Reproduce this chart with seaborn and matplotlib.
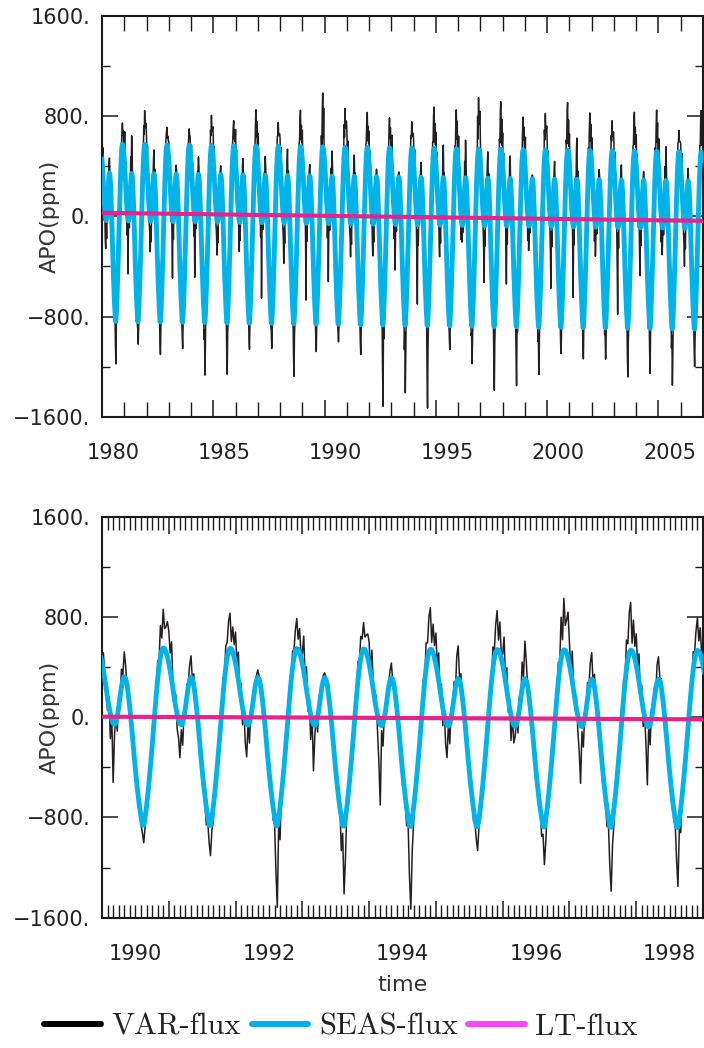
import numpy as np
import pandas as pd
import matplotlib
matplotlib.use("Agg")
import matplotlib.pyplot as plt
import matplotlib.transforms as mtransforms
from matplotlib.lines import Line2D
from matplotlib.ticker import FixedLocator, FuncFormatter, MultipleLocator
import seaborn as sns

# ---------------- data ----------------
start_year = 1980
samples_per_year = 48

# mean seasonal cycle (SEAS-flux without trend), ppm, 48 values per year
seas_cycle = [430, 370, 300, 225, 150, 80, 25, -25, -55, -62, -45, 5,
              75, 160, 240, 295, 318, 305, 255, 170, 70, -45, -170, -300,
              -420, -530, -630, -720, -790, -862, -865, -800, -715, -610, -495, -370,
              -240, -100, 40, 175, 300, 400, 480, 530, 550, 545, 520, 480]

# long-term trend (LT-flux), ppm
lt_years = [1980, 2007]
lt_values = [28, -36]

# VAR-flux deviation from SEAS-flux, in units of 10 ppm, one row per year
resid_unit = 10
var_resid_1980s = [
    [4, 10, 22, -6, 12, -14, 4, -18, -23, 2, -16, 8, -6, 6, -4, 9, 12, 2, 5, -5, 6, -7, 4, -8, 2, -6, 4, -10, -3, -19, -34, -6, -14, 4, -8, 5, -6, 7, -2, 10, 0, 9, 6, 12, 17, 8, 14, 4],
    [8, 28, 3, 18, -10, 8, -20, 5, -43, -8, 6, -12, 10, -2, 21, 4, 30, 15, -2, 9, -8, 5, -6, 3, -9, 4, -7, 2, -9, -6, -18, -11, -2, -10, 6, -7, 8, -4, 9, 2, 15, 4, 22, 10, 27, 14, 18, 24],
    [18, -2, 24, 4, -6, 10, -12, -12, -25, -4, -18, 4, -4, 11, 3, 13, 19, -2, 10, -6, 5, -9, 6, -5, -12, 5, -6, -14, -4, -16, -26, -10, -12, 2, -7, 6, -3, 10, -5, 14, 3, 8, 12, 12, 14, 6, 10, 10],
    [15, 5, 16, -6, 12, -14, 4, -18, -46, 2, -16, 8, -6, 4, -4, 5, 7, 2, 3, -5, 6, -7, 4, -8, 2, -6, 4, -10, -3, -12, -21, -6, -8, 4, -8, 5, -6, 7, -2, 10, 0, 7, 6, 9, 13, 8, 10, 4],
    [8, 18, 3, 18, -10, 8, -20, 5, -45, -8, 6, -12, 10, -2, 10, 4, 14, 7, -2, 9, -8, 5, -6, 3, -9, 4, -7, 2, -21, -6, -42, -25, -2, -10, 6, -7, 8, -4, 9, 2, 15, 4, 19, 10, 24, 12, 16, 22],
    [18, -2, 24, 4, -6, 10, -12, -14, -27, -4, -18, 4, -4, 4, 3, 5, 7, -2, 4, -6, 5, -9, 6, -5, -12, 5, -6, -14, -4, -25, -41, -16, -12, 2, -7, 6, -3, 10, -5, 14, 3, 12, 12, 17, 20, 6, 14, 10],
    [25, 5, 22, -6, 12, -14, 4, -18, -24, 2, -16, 8, -6, 7, -4, 10, 13, 2, 5, -5, 6, -7, 4, -8, 2, -6, 4, -10, -3, -12, -21, -6, -8, 4, -8, 5, -6, 7, -2, 10, 0, 16, 6, 20, 29, 8, 23, 4],
    [8, 28, 3, 18, -10, 8, -20, 5, -61, -8, 6, -12, 10, -2, 10, 4, 15, 8, -2, 9, -8, 5, -6, 3, -9, 4, -7, 2, -10, -6, -20, -12, -2, -10, 6, -7, 8, -4, 9, 2, 15, 4, 15, 10, 19, 10, 12, 17],
    [18, -2, 24, 4, -6, 10, -12, -16, -33, -4, -18, 4, -4, 13, 3, 15, 21, -2, 10, -6, 5, -9, 6, -5, -12, 5, -6, -14, -4, -25, -42, -17, -12, 2, -7, 6, -3, 10, -5, 14, 3, 17, 12, 25, 29, 6, 20, 10],
    [25, 5, 22, -6, 12, -14, 4, -18, -62, 2, -16, 8, -6, 4, -4, 7, 9, 2, 4, -5, 6, -7, 4, -8, 2, -6, 4, -10, -3, -12, -22, -6, -9, 4, -8, 5, -6, 7, -2, 10, 0, 24, 6, 30, 43, 8, 34, 4],
]
var_resid_1990s = [
    [8, 14, 3, -5, -10, 8, -20, 5, -47, -8, 6, -12, 10, -2, 14, 4, 20, 10, -2, 9, -8, 5, -6, 3, -9, 4, -7, 2, -7, -6, -14, -8, -2, -10, 6, -7, 8, -4, 9, 2, 15, 4, 25, 10, 31, 16, 20, 28],
    [26, 14, 30, 4, -6, 10, -12, -14, -27, -4, -18, 4, -4, 10, 3, 12, 17, -2, 9, -6, 5, -9, 6, -5, -12, 5, -6, -14, -4, -14, -24, -10, -12, 2, -7, 6, -3, 10, -5, 14, 3, 17, 12, 24, 28, 6, 20, 10],
    [25, 5, 22, -6, 12, -14, 4, -18, -26, 2, -16, 8, -6, 3, -4, 4, 6, 2, 2, -5, 6, -7, 4, -8, 2, -6, 4, -10, -3, -36, -65, -6, -26, 4, -8, 5, -6, 7, -2, 10, 0, 13, 6, 17, 24, 8, 19, 4],
    [8, 28, 3, 18, -10, 8, -20, 5, -37, -8, 6, -12, 10, -2, 3, 4, 4, 2, -2, 9, -8, 5, -6, 3, -9, 4, -7, 2, -27, -6, -54, -32, -2, -10, 6, -7, 8, -4, 9, 2, 15, 4, 17, 10, 21, 10, 14, 19],
    [18, -2, 24, 4, -6, 10, -12, -32, -64, -4, -18, 4, -4, 7, 3, 8, 12, -2, 6, -6, 5, -9, 6, -5, -12, 5, -6, -14, -4, -40, -66, -26, -12, 2, -7, 6, -3, 10, -5, 14, 3, 20, 12, 28, 33, 6, 23, 10],
    [25, 5, 22, -6, 12, -14, 4, -18, -26, 2, -16, 8, -6, 13, -4, 20, 26, 2, 10, -5, 6, -7, 4, -8, 2, -6, 4, -10, -3, -10, -19, -6, -8, 4, -8, 5, -6, 7, -2, 10, 0, 17, 6, 22, 31, 8, 25, 4],
    [8, 28, 3, 18, -10, 8, -20, 5, -14, -8, 6, -12, 10, -2, 21, 4, 30, 15, -2, 9, -8, 5, -6, 3, -9, 4, -7, 2, -15, -6, -30, -18, -2, -10, 6, -7, 8, -4, 9, 2, 15, 4, 33, 10, 41, 20, 27, 37],
    [18, -2, 24, 4, -6, 10, -12, -23, -46, -4, -18, 4, -4, 13, 3, 15, 21, -2, 10, -6, 5, -9, 6, -5, -12, 5, -6, -14, -4, -31, -51, -20, -12, 2, -7, 6, -3, 10, -5, 14, 3, 23, 12, 32, 38, 6, 27, 10],
    [25, 5, 22, -6, 12, -14, 4, -18, -47, 2, -16, 8, -6, 9, -4, 14, 18, 2, 7, -5, 6, -7, 4, -8, 2, -6, 4, -10, -3, -26, -47, -6, -19, 4, -8, 5, -6, 7, -2, 10, 0, 14, 6, 18, 26, 8, 21, 4],
    [8, 28, 3, 18, -10, 8, -20, 5, -20, -8, 6, -12, 10, -2, 2, 4, 3, 2, -2, 9, -8, 5, -6, 3, -9, 4, -7, 2, -19, -6, -38, -23, -2, -10, 6, -7, 8, -4, 9, 2, 15, 4, 23, 10, 29, 15, 19, 26],
]
var_resid_2000s = [
    [18, -2, 24, 4, -6, 10, -12, -25, -50, -4, -18, 4, -4, 8, 3, 10, 14, -2, 7, -6, 5, -9, 6, -5, -12, 5, -6, -14, -4, -13, -21, -8, -12, 2, -7, 6, -3, 10, -5, 14, 3, 23, 12, 32, 38, 6, 27, 10],
    [25, 5, 22, -6, 12, -14, 4, -18, -57, 2, -16, 8, -6, 17, -4, 25, 33, 2, 13, -5, 6, -7, 4, -8, 2, -6, 4, -10, -3, -14, -25, -6, -10, 4, -8, 5, -6, 7, -2, 10, 0, 17, 6, 21, 30, 8, 24, 4],
    [8, 28, 3, 18, -10, 8, -20, 5, -24, -8, 6, -12, 10, -2, 6, 4, 8, 4, -2, 9, -8, 5, -6, 3, -9, 4, -7, 2, -13, -6, -25, -15, -2, -10, 6, -7, 8, -4, 9, 2, 15, 4, 19, 10, 24, 12, 16, 22],
    [18, -2, 24, 4, -6, 10, -12, -35, -70, -4, -18, 4, -4, 7, 3, 8, 12, -2, 6, -6, 5, -9, 6, -5, -12, 5, -6, -14, -4, -23, -39, -16, -12, 2, -7, 6, -3, 10, -5, 14, 3, 19, 12, 26, 31, 6, 22, 10],
    [25, 5, 22, -6, 12, -14, 4, -18, -39, 2, -16, 8, -6, 4, -4, 5, 7, 2, 3, -5, 6, -7, 4, -8, 2, -6, 4, -10, -3, -20, -36, -6, -14, 4, -8, 5, -6, 7, -2, 10, 0, 18, 6, 23, 33, 8, 26, 4],
    [8, 28, 3, 18, -10, 8, -20, 5, -22, -8, 6, -12, 10, -2, 19, 4, 27, 14, -2, 9, -8, 5, -6, 3, -9, 4, -7, 2, -23, -6, -45, -27, -2, -10, 6, -7, 8, -4, 9, 2, 12, 4, 14, 10, 17, 9, 11, 15],
    [18, -2, 24, 4, -6, 10, -12, -16, -31, -4, -18, 4, -4, 6, 3, 7, 10, -2, 5, -6, 5, -9, 6, -5, -12, 5, -6, -14, -4, -18, -30, -12, -12, 2, -7, 6, -3, 10, -5, 14, 3, 20, 12, 28, 33, 6, 23, 10],
]

top_xlim = [1980, 2007]
bottom_xlim = [1990, 1999]
top_label_years = [1980, 1985, 1990, 1995, 2000, 2005]
bottom_label_years = [1990, 1992, 1994, 1996, 1998]
y_major = [-1600, -800, 0, 800, 1600]
y_minor = [-1200, -400, 400, 1200]

series_names = ["VAR-flux", "SEAS-flux", "LT-flux"]
line_colors = ["#231f20", "#00b4ea", "#e6228c"]
legend_colors = ["#000000", "#00aeef", "#ff44ff"]

# ---------------- assemble series ----------------
all_rows = var_resid_1980s + var_resid_1990s + var_resid_2000s
for row in all_rows:
    assert len(row) == samples_per_year, len(row)
resid = resid_unit * np.concatenate([np.array(r, dtype=float) for r in all_rows])
n = len(resid)
t = start_year + np.arange(n) / samples_per_year
seas = np.tile(np.array(seas_cycle, dtype=float), n // samples_per_year)
lt_at_t = np.interp(t, lt_years, lt_values)
seas_flux = seas + lt_at_t
var_flux = seas_flux + resid
df = pd.DataFrame({"time": t, "VAR": var_flux, "SEAS": seas_flux})
lt_df = pd.DataFrame({"time": lt_years, "LT": lt_values})

# ---------------- style ----------------
sns.set_style("ticks")
plt.rcParams["font.family"] = ["DejaVu Sans"]
plt.rcParams["axes.unicode_minus"] = True
plt.rcParams["path.simplify"] = False

W, H = 704, 1048
fig = plt.figure(figsize=(W / 100, H / 100), dpi=100)

ax_top = fig.add_axes([102 / W, 1 - 416.7 / H, 601 / W, 400.7 / H])
ax_bot = fig.add_axes([102 / W, 1 - 917.7 / H, 601 / W, 401 / H])

tick_color = "#222222"


def yfmt(v, pos):
    return f"{int(round(v))}.".replace("-", "\u2212")


def draw(ax, xlim, major_step, minor_step, maj_len, min_len, label_years):
    sns.lineplot(data=df, x="time", y="VAR", ax=ax, color=line_colors[0],
                 lw=1.1, estimator=None, legend=False, zorder=2)
    sns.lineplot(data=df, x="time", y="SEAS", ax=ax, color=line_colors[1],
                 lw=3.5, estimator=None, legend=False, zorder=3)
    sns.lineplot(data=lt_df, x="time", y="LT", ax=ax, color=line_colors[2],
                 lw=3.0, estimator=None, legend=False, zorder=4)
    ax.set_xlim(*xlim)
    ax.set_ylim(-1600, 1600)
    for s in ax.spines.values():
        s.set_visible(True)
        s.set_linewidth(1.5)
        s.set_color("#1a1a1a")
    ax.xaxis.set_major_locator(MultipleLocator(major_step))
    ax.xaxis.set_minor_locator(MultipleLocator(minor_step))
    ax.tick_params(axis="x", which="both", direction="in", top=True,
                   bottom=True, labelbottom=False, color="#1a1a1a")
    ax.tick_params(axis="x", which="major", length=maj_len, width=1.1)
    ax.tick_params(axis="x", which="minor", length=min_len, width=1.0)
    ax.yaxis.set_major_locator(FixedLocator(y_major))
    ax.yaxis.set_minor_locator(FixedLocator(y_minor))
    ax.yaxis.set_major_formatter(FuncFormatter(yfmt))
    ax.tick_params(axis="y", which="both", direction="in", left=True,
                   right=True, color="#1a1a1a")
    ax.tick_params(axis="y", which="major", length=11.5, width=1.1,
                   labelsize=15, pad=8.5, labelcolor=tick_color)
    ax.tick_params(axis="y", which="minor", length=5.8, width=1.0)
    ax.set_xlabel("")
    ax.set_ylabel("APO(ppm)", fontsize=16, color="#333333")
    ax.yaxis.set_label_coords(-0.07, 0.5)
    trans = mtransforms.offset_copy(
        mtransforms.blended_transform_factory(ax.transData, ax.transAxes),
        fig=fig, y=-26, units="dots")
    for yr in label_years:
        ax.text(yr + 0.5, 0, str(yr), transform=trans, ha="center", va="top",
                fontsize=15, color=tick_color)


draw(ax_top, top_xlim, 5, 1, 12.2, 10.8, top_label_years)
draw(ax_bot, bottom_xlim, 1, 1 / 12, 12.2, 9.4, bottom_label_years)

ax_bot.text(0.5, -0.142, "time", transform=ax_bot.transAxes, ha="center",
            va="top", fontsize=16, color="#333333")

handles = [Line2D([0], [0], color=c, lw=4.3) for c in legend_colors]
fig.legend(handles, series_names, loc="center",
           bbox_to_anchor=(341 / W, 1 - 1027 / H), ncol=3, frameon=False,
           prop={"family": "cmr10", "size": 22}, handlelength=1.85,
           handletextpad=0.35, columnspacing=0.35, borderpad=0,
           labelcolor="#222222")

fig.savefig("out.png", dpi=100)
